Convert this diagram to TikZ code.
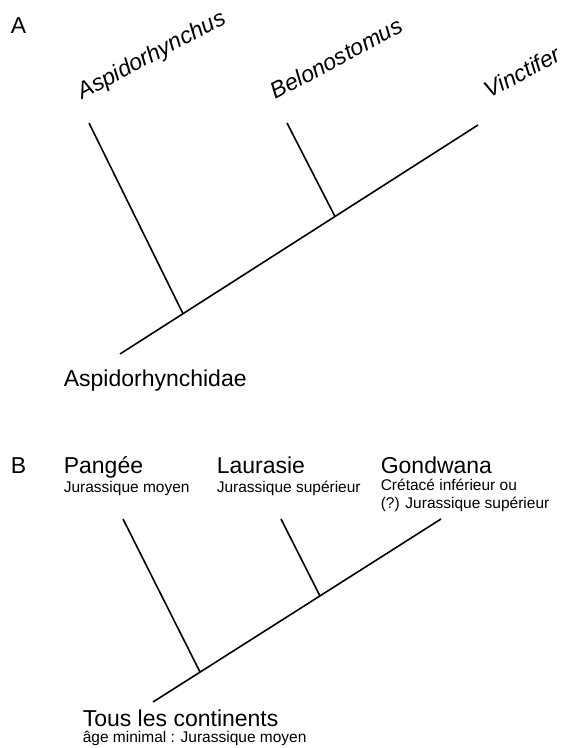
\documentclass[tikz,border=0pt]{standalone}
\usepackage{fontspec}
\setmainfont{Liberation Sans}
\begin{document}
\begin{tikzpicture}[x=1pt, y=-1pt, line width=1.6pt,
  every node/.style={inner sep=0pt, anchor=base west},
  big/.style={font=\fontsize{23}{26}\selectfont},
  small/.style={font=\fontsize{15.5}{18}\selectfont},
  taxon/.style={font=\fontsize{23}{26}\selectfont\itshape, rotate=28}]
\useasboundingbox (0,0) rectangle (573,748);

\begin{scope}
\node[big] (pa) at (10,33) {A};
\coordinate (rootA) at (120,354);
\coordinate (tipV) at (478,125);
\coordinate (tipA) at (89,123);
\coordinate (tipB) at (287,123);
\coordinate (jA) at (183,313.7);
\coordinate (jB) at (335,216.5);
\draw (rootA)--(tipV);
\draw (tipA)--(jA);
\draw (tipB)--(jB);
\node[taxon] (aspido) at (82,100) {Aspidorhynchus};
\node[taxon] (belono) at (275,100) {Belonostomus};
\node[taxon] (vinct) at (489,99) {Vinctifer};
\node[big] (fam) at (63,386) {Aspidorhynchidae};
\end{scope}

\begin{scope}
\node[big] (pb) at (10,473) {B};
\coordinate (rootB) at (153,702);
\coordinate (tipG) at (441,519);
\coordinate (tipP) at (123,519);
\coordinate (tipL) at (281,519);
\coordinate (jP) at (200,672);
\coordinate (jL) at (320,596);
\draw (rootB)--(tipG);
\draw (tipP)--(jP);
\draw (tipL)--(jL);
\node[big] (pangee) at (63,473) {Pangée};
\node[small] (pangee2) at (63,492) {Jurassique moyen};
\node[big] (laur) at (216,473) {Laurasie};
\node[small] (laur2) at (216,492) {Jurassique supérieur};
\node[big] (gond) at (380,473) {Gondwana};
\node[small] (gond2) at (380,490) {Crétacé inférieur ou};
\node[small] (gond3) at (380,508) {(?) Jurassique supérieur};
\node[big] (tous) at (82,726) {Tous les continents};
\node[small] (tous2) at (82,742) {âge minimal : Jurassique moyen};
\end{scope}
\end{tikzpicture}
\end{document}
